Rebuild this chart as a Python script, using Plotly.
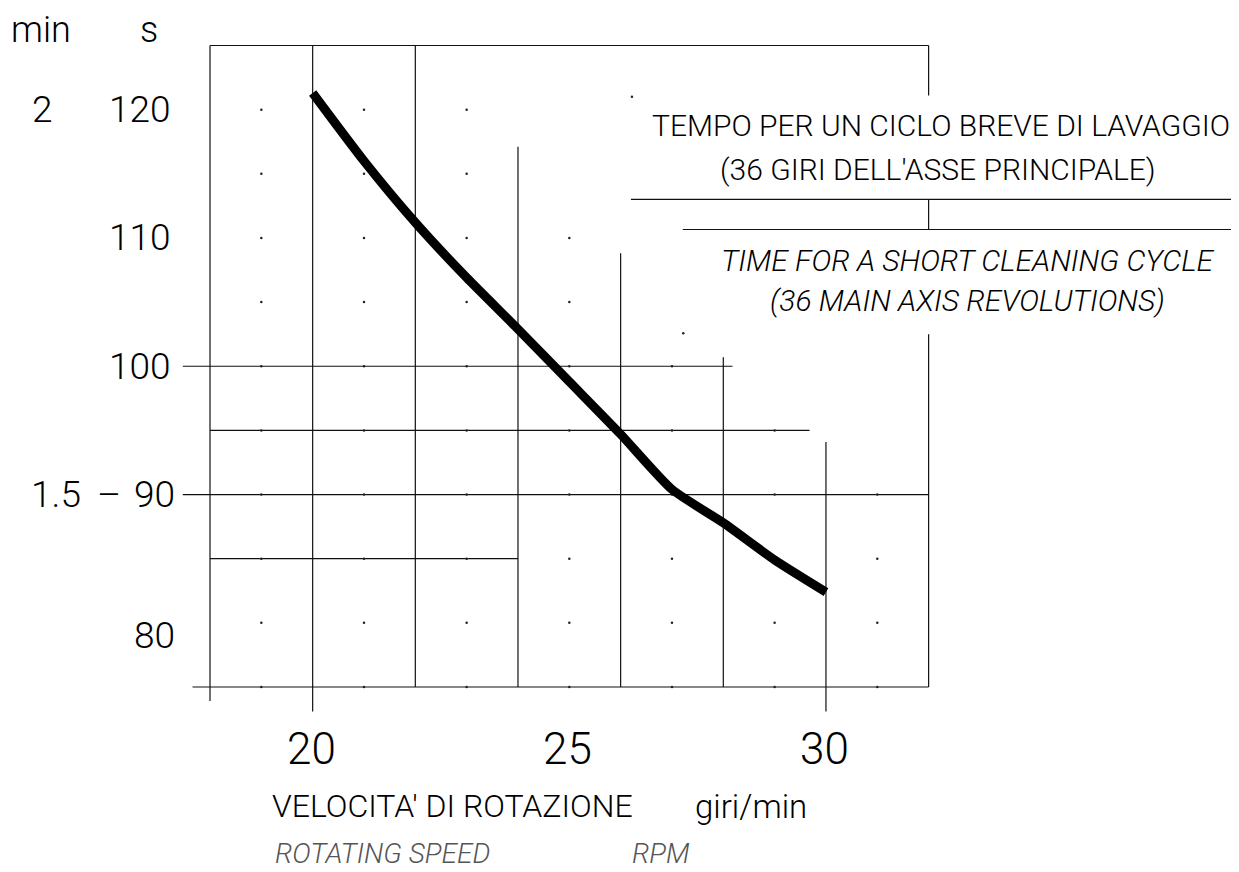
import plotly.graph_objects as go

# ---------------- data ----------------
rpm = [20, 21, 22, 23, 24, 25, 26, 27, 28, 29, 30]
cycle_time_s = [121.3, 116.0, 111.2, 106.9, 102.9, 98.8, 94.7, 90.4, 87.8, 84.9, 82.4]

x_tick_values = [20, 25, 30]
x_tick_labels = ["20", "25", "30"]
s_tick_values = [120, 110, 100, 90, 80]
s_tick_labels = ["120", "110", "100", "90", "80"]
min_tick_values = [120, 90]
min_tick_labels = ["2", "1.5"]

title_it = ["TEMPO PER UN CICLO BREVE DI LAVAGGIO", "(36 GIRI DELL'ASSE PRINCIPALE)"]
title_en = ["TIME FOR A SHORT CLEANING CYCLE", "(36 MAIN AXIS REVOLUTIONS)"]
xlabel_it = ["VELOCITA' DI ROTAZIONE", "giri/min"]
xlabel_en = ["ROTATING SPEED", "RPM"]

# grid columns (x, from, to) and rows (y, from, to) in chart units
v_grid = [(18, 125, 73.9), (20, 125, 73.1), (22, 125, 75), (24, 117.1, 75),
          (26, 108.8, 75), (28, 100.7, 75), (30, 94.1, 73.1),
          (32, 125, 121.1), (32, 113.0, 110.66), (32, 102.5, 75)]
h_grid = [(125, 18, 32), (100, 17.47, 28.18), (95, 18, 29.68), (90, 17.47, 32),
          (85, 18, 24), (75, 17.66, 32),
          (113.0, 26.2, 38.3), (110.66, 27.21, 38.3)]
dot_columns = [19, 21, 23, 25, 27, 29, 31]
dot_column_top = [120, 120, 120, 110, 100, 95, 90]
corner_dots_x = [26.22, 27.22]
corner_dots_y = [121.0, 102.57]

# ---------------- layout calibration ----------------
PAGE_MARGIN = 8                      # default body margin of the html page
W, H = 1239 - PAGE_MARGIN, 872 - PAGE_MARGIN
PX_X18, PXU_X = 210.0 - PAGE_MARGIN, 51.33
PX_Y75, PXU_Y = 687.0 - PAGE_MARGIN, 12.83
X_MIN = 18 - PX_X18 / PXU_X
X_MAX = 18 + (W - PX_X18) / PXU_X
Y_MIN = 75 - (H - PX_Y75) / PXU_Y
Y_MAX = 75 + PX_Y75 / PXU_Y

FONT = "Roboto, Liberation Sans, sans-serif"
LINE = "#111111"

fig = go.Figure()

shapes = []
for x, y0, y1 in v_grid:
    shapes.append(dict(type="line", xref="x", yref="y", x0=x, x1=x, y0=y0, y1=y1,
                       line=dict(color=LINE, width=1.2), layer="below"))
for y, x0, x1 in h_grid:
    shapes.append(dict(type="line", xref="x", yref="y", x0=x0, x1=x1, y0=y, y1=y,
                       line=dict(color=LINE, width=1.2), layer="below"))

# dot grid
dx, dy = [], []
for cx, top in zip(dot_columns, dot_column_top):
    v = 75
    while v <= top:
        dx.append(cx)
        dy.append(v)
        v += 5
dx += corner_dots_x
dy += corner_dots_y
fig.add_trace(go.Scatter(x=dx, y=dy, mode="markers",
                         marker=dict(size=2.5, color="#222222"), hoverinfo="skip"))

# main curve
fig.add_trace(go.Scatter(x=rpm, y=cycle_time_s, mode="lines",
                         line=dict(color="black", width=9, shape="spline", smoothing=0.6),
                         hoverinfo="skip"))

ann = []
def txt(x, y, t, size, xanchor="center", italic=False, color="black"):
    ann.append(dict(x=x, y=y, xref="x", yref="y", text=t, showarrow=False,
                    xanchor=xanchor, yanchor="middle",
                    font=dict(family=FONT, size=size, color=color, weight=300,
                              style="italic" if italic else "normal")))

# y tick labels (seconds)
for v, t in zip(s_tick_values, s_tick_labels):
    xr = 17.28 if v >= 100 else 17.36
    yy = v if v != 80 else 79.0
    txt(xr, yy, t, 37, xanchor="right")
# minutes labels
txt(14.73, min_tick_values[0], min_tick_labels[0], 37)
txt(15.0, min_tick_values[1], min_tick_labels[1], 37)
txt(16.04, 90, "\u2013", 37)
txt(14.71, 126.2, "min", 36)
txt(16.81, 126.2, "s", 36)

# x tick labels
for v, t in zip(x_tick_values, x_tick_labels):
    txt(v - 0.03, 70.17, t, 44)

# x axis titles
txt(19.17, 65.72, xlabel_it[0], 32, xanchor="left")
txt(27.41, 65.72, xlabel_it[1], 33, xanchor="left")
txt(19.23, 62.05, xlabel_en[0], 28, xanchor="left", italic=True, color="#555555")
txt(26.18, 62.05, xlabel_en[1], 28, xanchor="left", italic=True, color="#555555")

# chart titles
txt(32.24, 118.8, title_it[0], 30)
txt(32.18, 115.3, title_it[1], 30)
txt(32.77, 108.28, title_en[0], 30, italic=True)
txt(32.75, 105.16, title_en[1], 30, italic=True)

fig.update_layout(
    width=W, height=H,
    margin=dict(l=0, r=0, t=0, b=0),
    paper_bgcolor="white", plot_bgcolor="white",
    showlegend=False,
    shapes=shapes,
    annotations=ann,
    xaxis=dict(range=[X_MIN, X_MAX], visible=False, fixedrange=True),
    yaxis=dict(range=[Y_MIN, Y_MAX], visible=False, fixedrange=True),
)

fig.write_html("out.html", config={"displayModeBar": False})
